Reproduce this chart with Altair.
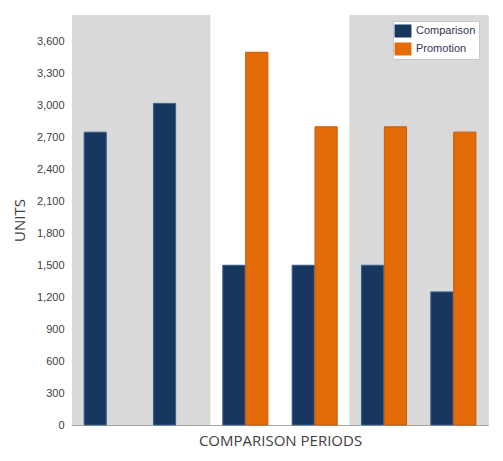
import altair as alt
import pandas as pd

periods = ["Period 1", "Period 2", "Period 3", "Period 4", "Period 5", "Period 6"]
series = ["Comparison", "Promotion"]
comparison = [2750, 3020, 1500, 1500, 1500, 1250]
promotion = [None, None, 3500, 2800, 2800, 2750]
y_ticks = list(range(0, 3601, 300))

band_start = [0, 2, 4]
band_end = [2, 4, 6]
band_fill = ["#D9D9D9", "#FFFFFF", "#D9D9D9"]

rows = []
for p, c, pr in zip(periods, comparison, promotion):
    rows.append({"Period": p, "Series": "Comparison", "Units": c})
    if pr is not None:
        rows.append({"Period": p, "Series": "Promotion", "Units": pr})
bars_df = pd.DataFrame(rows)
bands_df = pd.DataFrame({"start": band_start, "end": band_end, "fill": band_fill})

bg = alt.Chart(bands_df).mark_rect().encode(
    x=alt.X("start:Q", scale=alt.Scale(domain=[0, 6], nice=False, zero=False), axis=None),
    x2="end:Q",
    color=alt.Color("fill:N", scale=None, legend=None),
)

bars = alt.Chart(bars_df).mark_bar(strokeWidth=1).encode(
    x=alt.X("Period:N", sort=periods,
            scale=alt.Scale(paddingInner=0.35, paddingOuter=0.175),
            axis=alt.Axis(title="COMPARISON PERIODS", labels=False, ticks=False,
                          domainColor="#A6A6A6", titleFont="Open Sans", titleFontSize=15,
                          titleFontWeight="normal", titleColor="#404040", titlePadding=8)),
    xOffset=alt.XOffset("Series:N", scale=alt.Scale(domain=series, paddingInner=0.03)),
    y=alt.Y("Units:Q", scale=alt.Scale(domain=[0, 3850], nice=False),
            axis=alt.Axis(values=y_ticks, format=",.0f", title="UNITS", grid=False, ticks=False,
                          labelPadding=8, labelFont="Liberation Sans", labelFontSize=11,
                          labelColor="#404040", domainColor="#A6A6A6",
                          titleFont="Open Sans", titleFontSize=15, titleFontWeight="normal",
                          titleColor="#404040", titlePadding=9)),
    color=alt.Color("Series:N", scale=alt.Scale(domain=series, range=["#17375E", "#E36C09"]),
                    legend=alt.Legend(title=None, orient="none", legendX=321, legendY=6,
                                      fillColor="#FFFFFF", strokeColor="#C8C8C8", padding=3,
                                      symbolType="M-1.3,-1L1.3,-1L1.3,1L-1.3,1Z", symbolSize=169,
                                      symbolStrokeWidth=1, symbolOpacity=1,
                                      labelFont="Liberation Sans", labelFontSize=11,
                                      labelColor="#333355", rowPadding=4, labelOffset=6)),
    stroke=alt.Stroke("Series:N", scale=alt.Scale(domain=series, range=["#3A6090", "#C45A08"]),
                      legend=None),
)

chart = alt.layer(bg, bars).resolve_scale(x="independent", color="independent").properties(
    width=416, height=410,
    autosize=alt.AutoSizeParams(type="none"),
    padding={"left": 64, "top": 7, "right": 3, "bottom": 28},
).configure_view(stroke="#A6A6A6", strokeWidth=1).configure(background="#FFFFFF")

chart.save("out.html", embed_options={"renderer": "svg", "actions": False})
